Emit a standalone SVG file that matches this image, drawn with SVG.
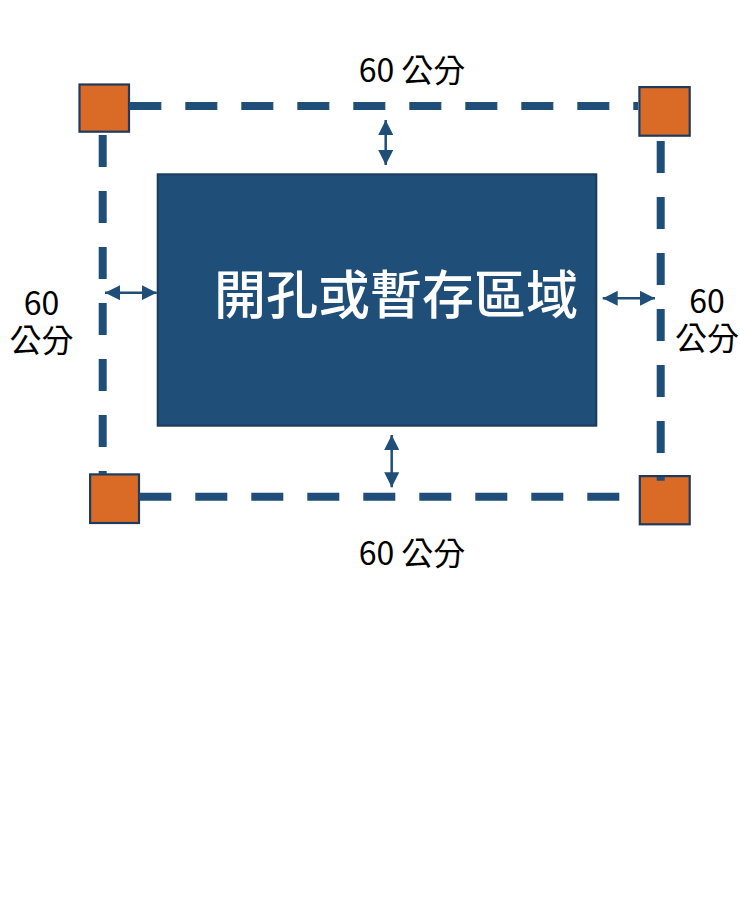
<svg xmlns="http://www.w3.org/2000/svg" width="740" height="909" viewBox="0 0 740 909">
<defs>
<style>
.dash{fill:none;stroke:#1F4E79;stroke-width:8;stroke-dasharray:32 24}
.post{fill:#DA6B27;stroke:#1E3A5C;stroke-width:2.2}
.arr{fill:none;stroke:#1F4E79;stroke-width:2.5;marker-start:url(#ah);marker-end:url(#ah)}
.lbl{font-family:"Noto Sans CJK TC","Noto Sans",sans-serif;font-size:32px;fill:#000;text-anchor:middle}
.main{font-family:"Noto Sans CJK TC","Noto Sans",sans-serif;font-size:52px;font-weight:500;fill:#fff;text-anchor:middle}
</style>
<marker id="ah" viewBox="0 0 15 15" refX="15" refY="7.5" markerWidth="15" markerHeight="15" markerUnits="userSpaceOnUse" orient="auto-start-reverse">
<path d="M0,0 L15,7.5 L0,15 Z" fill="#1F4E79"/>
</marker>
</defs>
<rect width="740" height="909" fill="#fff"/>
<g id="post-tl"><rect class="post" x="79.5" y="84.5" width="49.5" height="47.2"/></g>
<g id="post-tr"><rect class="post" x="639.4" y="87.1" width="50.3" height="48.6"/></g>
<g id="post-bl"><rect class="post" x="90.1" y="474.4" width="48.9" height="48.6"/></g>
<g id="post-br"><rect class="post" x="639.8" y="476.1" width="49.9" height="48.2"/></g>
<g id="connectors">
<path class="dash" d="M129.3 106 H638"/>
<path class="dash" d="M102.7 135 V474"/>
<path class="dash" d="M660.7 141 V480.7"/>
<path class="dash" d="M139.3 496.7 H638.7"/>
<path class="arr" d="M385.7 120 V165"/>
<path class="arr" d="M391.7 435 V487.3"/>
<path class="arr" d="M105 292.7 H156.7"/>
<path class="arr" d="M602.7 298.3 H655"/>
</g>
<g id="area">
<rect x="157.7" y="174.3" width="438.6" height="251.4" fill="#1F4E79" stroke="#1A3B5E" stroke-width="2"/>
<text class="main" x="396" y="314">開孔或暫存區域</text>
</g>
<g id="labels">
<text class="lbl" x="412" y="81.5">60 公分</text>
<text class="lbl" x="412" y="565">60 公分</text>
<text class="lbl" x="41.5" y="315">60<tspan x="41.5" y="351.5">公分</tspan></text>
<text class="lbl" x="707" y="313.3">60<tspan x="707" y="350">公分</tspan></text>
</g>
</svg>
